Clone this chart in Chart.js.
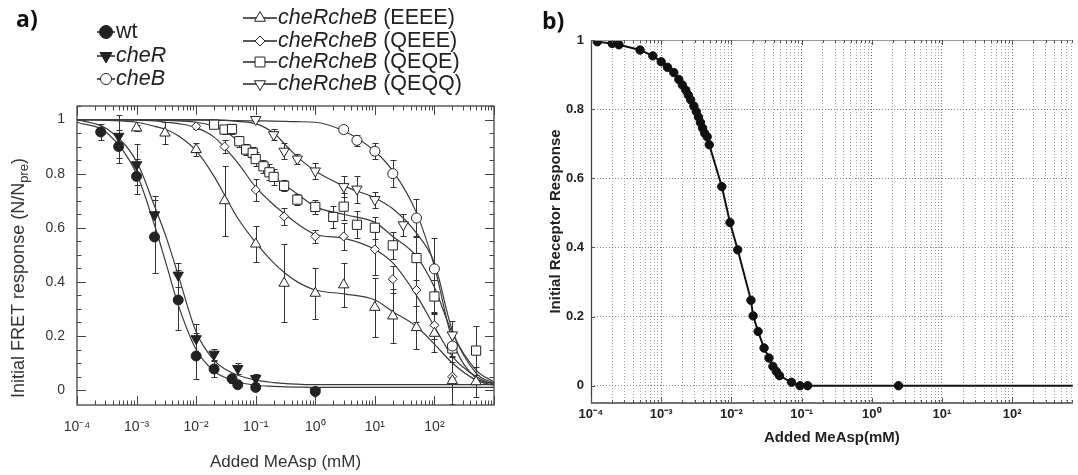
<!DOCTYPE html>
<html><head><meta charset="utf-8">
<script src="https://cdn.jsdelivr.net/npm/chart.js@4.4.1/dist/chart.umd.min.js"></script>
<style>
html,body{margin:0;padding:0;background:#fff;}
#wrap{position:relative;width:1078px;height:475px;overflow:hidden;background:#fff;}
#ca{position:absolute;left:0;top:0;}
#cb{position:absolute;left:520px;top:0;}
</style></head><body>
<div id="wrap">
<canvas id="ca" width="520" height="475"></canvas>
<canvas id="cb" width="558" height="475"></canvas>
</div>
<script>
// ---------------- Panel a data ----------------
const wtX   = [2.5e-4, 5e-4, 1e-3, 2e-3, 5e-3, 1e-2, 2e-2, 4e-2, 5e-2, 0.1, 1];
const wtY   = [0.954, 0.90, 0.79, 0.566, 0.333, 0.126, 0.078, 0.042, 0.02, 0.01, -0.005];
const wtErr = [0.03, 0.06, 0.065, 0.135, 0.11, 0.085, 0.03, 0.015, 0.01, 0.01, 0.01];

const cheRX   = [5e-4, 1e-3, 2e-3, 5e-3, 1e-2, 2e-2, 5e-2, 0.1, 1];
const cheRY   = [0.938, 0.833, 0.648, 0.425, 0.19, 0.133, 0.08, 0.043, -0.006];
const cheRErr = [0.08, 0.075, 0.07, 0.045, 0.055, 0.02, 0.02, 0.015, 0.01];

const cheBX   = [3, 5, 10, 20, 50, 100, 200];
const cheBY   = [0.963, 0.923, 0.883, 0.80, 0.636, 0.448, 0.163];
const cheBErr = [0.01, 0.02, 0.03, 0.05, 0.07, 0.115, 0.04];

const eeeeX   = [1e-3, 3e-3, 1e-2, 3e-2, 0.1, 0.3, 1, 3, 10, 20, 50, 100, 200, 500];
const eeeeY   = [0.969, 0.95, 0.889, 0.70, 0.54, 0.395, 0.358, 0.389, 0.306, 0.274, 0.231, 0.21, 0.035, 0.031];
const eeeeErr = [0.01, 0.04, 0.025, 0.13, 0.065, 0.145, 0.095, 0.08, 0.11, 0.1, 0.08, 0.07, 0.09, 0.055];

const qeeeX   = [1e-2, 3e-2, 0.1, 0.3, 1, 3, 10, 20, 50, 100, 200];
const qeeeY   = [0.975, 0.90, 0.74, 0.642, 0.568, 0.568, 0.52, 0.41, 0.37, 0.24, 0.05];
const qeeeErr = [0.01, 0.025, 0.04, 0.03, 0.025, 0.05, 0.095, 0.05, 0.12, 0.05, 0.1];

const qeqeX   = [0.02, 0.03, 0.04, 0.053, 0.069, 0.089, 0.1, 0.135, 0.17, 0.2, 0.3, 0.5, 1, 2, 3, 5, 10, 20, 50, 100, 200, 500];
const qeqeY   = [0.981, 0.963, 0.965, 0.92, 0.889, 0.877, 0.854, 0.827, 0.805, 0.788, 0.755, 0.704, 0.677, 0.64, 0.678, 0.611, 0.60, 0.535, 0.488, 0.346, 0.154, 0.146];
const qeqeErr = [0.01, 0.015, 0.02, 0.02, 0.02, 0.02, 0.025, 0.025, 0.03, 0.03, 0.02, 0.02, 0.025, 0.04, 0.05, 0.05, 0.04, 0.05, 0.08, 0.06, 0.05, 0.09];

const qeqqX   = [0.1, 0.2, 0.3, 0.5, 1, 3, 5, 10, 30, 200];
const qeqqY   = [1.0, 0.944, 0.883, 0.854, 0.81, 0.752, 0.743, 0.704, 0.611, 0.204];
const qeqqErr = [0.005, 0.02, 0.03, 0.02, 0.03, 0.04, 0.05, 0.03, 0.04, 0.05];

// fitted curves at these concentrations
const curveX     = [1e-4, 3.2e-4, 1e-3, 2e-3, 3.2e-3, 5e-3, 1e-2, 2e-2, 3.2e-2, 5e-2, 0.1, 0.2, 0.32, 0.5, 1, 3.2, 10, 20, 50, 100, 200, 500, 1000];
const wtCurve    = [0.99, 0.95, 0.80, 0.61, 0.46, 0.315, 0.15, 0.07, 0.045, 0.03, 0.018, 0.014, 0.012, 0.011, 0.01, 0.01, 0.01, 0.01, 0.01, 0.01, 0.01, 0.01, 0.01];
const cheRCurve  = [1.0, 0.965, 0.845, 0.68, 0.56, 0.425, 0.215, 0.11, 0.075, 0.055, 0.037, 0.028, 0.024, 0.022, 0.02, 0.02, 0.02, 0.02, 0.02, 0.02, 0.02, 0.02, 0.02];
const cheBCurve  = [1.0, 1.0, 1.0, 0.999, 0.999, 0.998, 0.998, 0.997, 0.997, 0.996, 0.995, 0.994, 0.993, 0.992, 0.99, 0.955, 0.883, 0.81, 0.655, 0.457, 0.185, 0.045, 0.025];
const eeeeCurve  = [1.0, 0.997, 0.99, 0.975, 0.962, 0.94, 0.885, 0.79, 0.71, 0.635, 0.545, 0.47, 0.43, 0.40, 0.37, 0.355, 0.333, 0.29, 0.235, 0.17, 0.10, 0.037, 0.018];
const qeeeCurve  = [1.0, 1.0, 0.998, 0.995, 0.99, 0.985, 0.97, 0.935, 0.89, 0.84, 0.75, 0.685, 0.648, 0.615, 0.576, 0.56, 0.52, 0.47, 0.35, 0.235, 0.125, 0.05, 0.02];
const qeqeCurve  = [1.0, 1.0, 1.0, 0.998, 0.997, 0.995, 0.99, 0.975, 0.955, 0.92, 0.855, 0.79, 0.755, 0.725, 0.678, 0.648, 0.62, 0.568, 0.494, 0.38, 0.21, 0.074, 0.03];
const qeqqCurve  = [1.0, 1.0, 1.0, 1.0, 1.0, 1.0, 1.0, 0.999, 0.997, 0.993, 0.985, 0.95, 0.905, 0.862, 0.81, 0.752, 0.71, 0.67, 0.58, 0.47, 0.22, 0.063, 0.025];

const seriesNames = ['wt', 'cheR', 'cheB', 'cheRcheB (EEEE)', 'cheRcheB (QEEE)', 'cheRcheB (QEQE)', 'cheRcheB (QEQQ)'];
const seriesItalic = [false, true, true, true, true, true, true];

const aXTickExp    = [-4, -3, -2, -1, 0, 1, 2];
const aXTickLabels = ['10⁻⁴', '10⁻³', '10⁻²', '10⁻¹', '10⁰', '10¹', '10²'];
const aXDecades    = [1e-4, 1e-3, 1e-2, 0.1, 1, 10, 100];
const aYTicks      = [0, 0.2, 0.4, 0.6, 0.8, 1];
const aYTickLabels = ['0', '0.2', '0.4', '0.6', '0.8', '1'];
const aYMarks      = [0, 0.05, 0.1, 0.15, 0.2, 0.25, 0.3, 0.35, 0.4, 0.45, 0.5, 0.55, 0.6, 0.65, 0.7, 0.75, 0.8, 0.85, 0.9, 0.95, 1, 1.05];
const aXTitle = 'Added MeAsp (mM)';
const aYTitleMain = 'Initial FRET response (N/N';
const aYTitleSub = 'pre';

// ---------------- Panel b data ----------------
const bX = [1.23e-4, 2.0e-4, 2.5e-4, 5e-4, 7.6e-4, 1e-3, 1.23e-3, 1.51e-3, 1.78e-3, 2.0e-3, 2.24e-3, 2.43e-3, 2.63e-3, 2.92e-3, 3.16e-3, 3.39e-3, 3.63e-3, 3.89e-3, 4.17e-3, 4.52e-3, 4.84e-3, 7.3e-3, 9.55e-3, 1.23e-2, 1.9e-2, 2.04e-2, 2.4e-2, 2.92e-2, 3.43e-2, 3.9e-2, 4.37e-2, 4.84e-2, 7.2e-2, 0.095, 0.122, 2.4, 1000];
const bY = [0.995, 0.99, 0.986, 0.971, 0.954, 0.937, 0.921, 0.906, 0.886, 0.87, 0.855, 0.841, 0.827, 0.809, 0.793, 0.777, 0.761, 0.745, 0.73, 0.72, 0.697, 0.576, 0.472, 0.393, 0.247, 0.202, 0.157, 0.109, 0.08, 0.056, 0.041, 0.029, 0.01, 0.0, 0.0, 0.0, 0.0];
const bXTickExp    = [-4, -3, -2, -1, 0, 1, 2];
const bXTickLabels = ['10⁻⁴', '10⁻³', '10⁻²', '10⁻¹', '10⁰', '10¹', '10²'];
const bXDecades    = [1e-4, 1e-3, 1e-2, 0.1, 1, 10, 100];
const bYTicks      = [0, 0.2, 0.4, 0.6, 0.8, 1];
const bYTickLabels = ['0', '0.2', '0.4', '0.6', '0.8', '1'];
const bXTitle = 'Added MeAsp(mM)';
const bYTitle = 'Initial Receptor Response';

// ---------------- helpers ----------------
Chart.defaults.font.family = '"Liberation Sans", Arial, sans-serif';
const FONT = '"Liberation Sans", Arial, sans-serif';
function xy(xs, ys) { return xs.map((x, i) => ({x: x, y: ys[i]})); }
function isDecade(v) { const e = Math.log10(v); return Math.abs(e - Math.round(e)) < 1e-6; }
function logMarks(decades, maxV) {
  const t = [];
  decades.forEach(d => { for (let m = 1; m <= 9; m++) { const v = +(d * m).toPrecision(6); if (v <= maxV * 1.0001) t.push(v); } });
  if (maxV > t[t.length - 1] * 1.0001 && isDecade(maxV)) t.push(maxV);
  return t;
}
function decadeLabel(v, exps, labels) {
  if (!isDecade(v)) return '';
  const i = exps.indexOf(Math.round(Math.log10(v)));
  return i >= 0 ? labels[i] : '';
}

const errorBars = {
  id: 'errorBars',
  beforeDatasetsDraw(chart) {
    const ctx = chart.ctx, xs = chart.scales.x, ys = chart.scales.y, a = chart.chartArea;
    ctx.save();
    ctx.beginPath(); ctx.rect(a.left, a.top, a.right - a.left, a.bottom - a.top); ctx.clip();
    ctx.strokeStyle = '#333'; ctx.lineWidth = 1;
    chart.data.datasets.forEach(ds => {
      if (!ds.errors) return;
      ds.data.forEach((p, i) => {
        const e = ds.errors[i]; if (!e) return;
        const px = Math.round(xs.getPixelForValue(p.x)) + 0.5;
        const y1 = Math.round(ys.getPixelForValue(p.y + e)) + 0.5, y2 = Math.round(ys.getPixelForValue(p.y - e)) + 0.5;
        ctx.beginPath();
        ctx.moveTo(px, y1); ctx.lineTo(px, y2);
        ctx.moveTo(px - 3, y1); ctx.lineTo(px + 3, y1);
        ctx.moveTo(px - 3, y2); ctx.lineTo(px + 3, y2);
        ctx.stroke();
      });
    });
    ctx.restore();
  }
};

const aStyles = [
  {ps: 'circle', rot: 0, fill: true, r: 5, lr: 6.5},
  {ps: 'triangle', rot: 180, fill: true, r: 6, lr: 7},
  {ps: 'circle', rot: 0, fill: false, r: 5, lr: 5.5},
  {ps: 'triangle', rot: 0, fill: false, r: 6, lr: 6.5},
  {ps: 'rectRot', rot: 0, fill: false, r: 4.5, lr: 5},
  {ps: 'rect', rot: 0, fill: false, r: 6.5, lr: 7},
  {ps: 'triangle', rot: 180, fill: false, r: 6, lr: 6.5}
];

const frameA = {
  id: 'frameA',
  afterDraw(chart) {
    const ctx = chart.ctx, a = chart.chartArea, x = chart.scales.x, y = chart.scales.y;
    ctx.save();
    ctx.strokeStyle = '#444'; ctx.lineWidth = 1.3;
    ctx.strokeRect(a.left, a.top, a.right - a.left, a.bottom - a.top);
    ctx.lineWidth = 1;
    ctx.beginPath();
    logMarks(aXDecades, 1000).forEach(v => {
      const px = Math.round(x.getPixelForValue(v)) + 0.5; const L = isDecade(v) ? 9 : 4.5;
      ctx.moveTo(px, a.bottom); ctx.lineTo(px, a.bottom - L);
      ctx.moveTo(px, a.top); ctx.lineTo(px, a.top + L);
    });
    aYMarks.forEach(v => {
      const py = Math.round(y.getPixelForValue(v)) + 0.5;
      const major = Math.abs(v * 5 - Math.round(v * 5)) < 1e-6; const L = major ? 9 : 4.5;
      ctx.moveTo(a.left, py); ctx.lineTo(a.left + L, py);
      ctx.moveTo(a.right, py); ctx.lineTo(a.right - L, py);
    });
    ctx.stroke();
    // y title with subscript
    ctx.fillStyle = '#333';
    ctx.translate(19, 278);
    ctx.rotate(-Math.PI / 2);
    ctx.textBaseline = 'middle';
    const mainFont = '18px ' + FONT, subFont = '13px ' + FONT;
    ctx.font = mainFont; const w1 = ctx.measureText(aYTitleMain).width; const w3 = ctx.measureText(')').width;
    ctx.font = subFont; const w2 = ctx.measureText(aYTitleSub).width;
    let sx = -(w1 + w2 + w3) / 2;
    ctx.font = mainFont; ctx.textAlign = 'left'; ctx.fillText(aYTitleMain, sx, 0);
    ctx.font = subFont; ctx.fillText(aYTitleSub, sx + w1, 5);
    ctx.font = mainFont; ctx.fillText(')', sx + w1 + w2, 0);
    ctx.restore();
    // panel label
    ctx.save();
    ctx.fillStyle = '#111'; ctx.font = 'bold 23px "Open Sans", ' + FONT; ctx.textBaseline = 'alphabetic';
    ctx.fillText('a)', 16, 27);
    ctx.restore();
    // legend
    const cols = [{x0: 97, len: 18, rows: [32, 56, 79]}, {x0: 243, len: 34, rows: [18, 41, 62, 84]}];
    ctx.save();
    ctx.textBaseline = 'middle'; ctx.fillStyle = '#222';
    seriesNames.forEach((name, i) => {
      const c = i < 3 ? cols[0] : cols[1]; const yy = c.rows[i < 3 ? i : i - 3];
      const st = aStyles[i];
      ctx.strokeStyle = '#222'; ctx.lineWidth = 1.5;
      ctx.beginPath(); ctx.moveTo(c.x0, yy); ctx.lineTo(c.x0 + c.len, yy); ctx.stroke();
      ctx.fillStyle = st.fill ? '#222' : '#fff'; ctx.lineWidth = 1;
      Chart.helpers.drawPoint(ctx, {pointStyle: st.ps, radius: st.lr, rotation: st.rot, borderWidth: 1}, c.x0 + c.len / 2, yy);
      ctx.fillStyle = '#222';
      let tx = c.x0 + c.len + 1;
      const sp = name.indexOf(' ');
      const first = sp >= 0 ? name.slice(0, sp) : name; const rest = sp >= 0 ? name.slice(sp) : '';
      ctx.font = (seriesItalic[i] ? 'italic ' : '') + '21.5px ' + FONT;
      ctx.fillText(first, tx, yy); tx += ctx.measureText(first).width;
      ctx.font = '21.5px ' + FONT; ctx.fillText(rest, tx, yy);
    });
    ctx.restore();
  }
};

const seriesA = [
  {x: wtX, y: wtY, e: wtErr, c: wtCurve},
  {x: cheRX, y: cheRY, e: cheRErr, c: cheRCurve},
  {x: cheBX, y: cheBY, e: cheBErr, c: cheBCurve},
  {x: eeeeX, y: eeeeY, e: eeeeErr, c: eeeeCurve},
  {x: qeeeX, y: qeeeY, e: qeeeErr, c: qeeeCurve},
  {x: qeqeX, y: qeqeY, e: qeqeErr, c: qeqeCurve},
  {x: qeqqX, y: qeqqY, e: qeqqErr, c: qeqqCurve}
];
const dsA = [];
seriesA.forEach((s, i) => {
  const st = aStyles[i];
  dsA.push({label: seriesNames[i], data: xy(s.x, s.y), showLine: false, pointStyle: st.ps, rotation: st.rot, pointRadius: st.r,
    pointBorderWidth: 1, pointBorderColor: '#222', pointBackgroundColor: st.fill ? '#222' : '#fff', errors: s.e, order: 0});
});
seriesA.forEach((s, i) => {
  dsA.push({label: seriesNames[i] + ' fit', data: xy(curveX, s.c), showLine: true, pointRadius: 0, borderColor: '#3a3a3a',
    borderWidth: 1.2, cubicInterpolationMode: 'monotone', fill: false, order: 1});
});

new Chart(document.getElementById('ca'), {
  type: 'scatter',
  data: {datasets: dsA},
  options: {
    responsive: false, animation: false, events: [], devicePixelRatio: 1,
    layout: {padding: {left: 0, top: 106, right: 26, bottom: 0}},
    plugins: {legend: {display: false}, tooltip: {enabled: false}},
    scales: {
      x: {type: 'logarithmic', min: 1e-4, max: 1000,
        afterBuildTicks: sc => { sc.ticks = logMarks(aXDecades, 1000).map(v => ({value: v})); },
        afterFit: sc => { sc.height = 70; },
        grid: {display: false, drawTicks: false}, border: {display: false},
        ticks: {autoSkip: false, maxRotation: 0, minRotation: 0, padding: 14, color: '#333', font: {size: 14},
          callback: v => decadeLabel(v, aXTickExp, aXTickLabels)},
        title: {display: true, text: aXTitle, color: '#333', font: {size: 17}, padding: {top: 0, bottom: 2}}
      },
      y: {type: 'linear', min: -0.055, max: 1.05,
        afterBuildTicks: sc => { sc.ticks = aYTicks.map(v => ({value: v})); },
        afterFit: sc => { sc.width = 77; },
        grid: {display: false, drawTicks: false}, border: {display: false},
        ticks: {padding: 12, color: '#333', font: {size: 14}, callback: v => aYTickLabels[aYTicks.indexOf(v)]}
      }
    }
  },
  plugins: [errorBars, frameA]
});

// ---------------- Panel b ----------------
const frameB = {
  id: 'frameB',
  afterDraw(chart) {
    const ctx = chart.ctx, a = chart.chartArea, x = chart.scales.x, y = chart.scales.y;
    ctx.save();
    ctx.lineWidth = 1;
    ctx.strokeStyle = '#999';
    ctx.beginPath(); ctx.moveTo(a.left, a.top + 0.5); ctx.lineTo(a.right, a.top + 0.5); ctx.stroke();
    ctx.strokeStyle = '#444'; ctx.lineWidth = 1.3;
    ctx.beginPath(); ctx.moveTo(a.left + 0.5, a.top); ctx.lineTo(a.left + 0.5, a.bottom); ctx.lineTo(a.right, a.bottom); ctx.stroke();
    ctx.lineWidth = 1; ctx.strokeStyle = '#555';
    ctx.beginPath();
    logMarks(bXDecades, 730).forEach(v => {
      const px = Math.round(x.getPixelForValue(v)) + 0.5; const L = isDecade(v) ? 5 : 3;
      ctx.moveTo(px, a.bottom); ctx.lineTo(px, a.bottom - L);
      ctx.moveTo(px, a.top); ctx.lineTo(px, a.top + L);
    });
    bYTicks.forEach(v => {
      const py = Math.round(y.getPixelForValue(v)) + 0.5;
      ctx.moveTo(a.left, py); ctx.lineTo(a.left + 4, py);
    });
    ctx.stroke();
    ctx.fillStyle = '#111'; ctx.font = 'bold 23px "Open Sans", ' + FONT; ctx.textBaseline = 'alphabetic';
    ctx.fillText('b)', 22, 29);
    ctx.restore();
  }
};

new Chart(document.getElementById('cb'), {
  type: 'scatter',
  data: {datasets: [{label: 'Receptor response', data: xy(bX, bY), showLine: true, borderColor: '#111', borderWidth: 2,
    pointStyle: 'circle', pointRadius: 4.2, pointBackgroundColor: '#111', pointBorderColor: '#111', pointBorderWidth: 1, tension: 0}]},
  options: {
    responsive: false, animation: false, events: [], devicePixelRatio: 1,
    layout: {padding: {left: 0, top: 40, right: 0, bottom: 0}},
    plugins: {legend: {display: false}, tooltip: {enabled: false}},
    scales: {
      x: {type: 'logarithmic', min: 1e-4, max: 730,
        afterBuildTicks: sc => { sc.ticks = logMarks(bXDecades, 730).map(v => ({value: v})); },
        afterFit: sc => { sc.height = 72; },
        grid: {display: true, drawTicks: false, lineWidth: 1, color: c => (c.tick && isDecade(c.tick.value)) ? '#6e6e6e' : '#a2a2a2'},
        border: {display: false, dash: [1, 2]},
        ticks: {autoSkip: false, maxRotation: 0, minRotation: 0, padding: 4, color: '#222', font: {size: 13, weight: 'bold'},
          callback: v => decadeLabel(v, bXTickExp, bXTickLabels)},
        title: {display: true, text: bXTitle, color: '#222', font: {size: 15, weight: 'bold'}, padding: {top: 0, bottom: 28}}
      },
      y: {type: 'linear', min: -0.05, max: 1.0,
        afterBuildTicks: sc => { sc.ticks = bYTicks.map(v => ({value: v})); },
        afterFit: sc => { sc.width = 71; },
        grid: {display: true, drawTicks: false, lineWidth: 1, color: '#8a8a8a'},
        border: {display: false, dash: [1, 2]},
        ticks: {padding: 7, color: '#222', font: {size: 13, weight: 'bold'}, callback: v => bYTickLabels[bYTicks.indexOf(v)]},
        title: {display: true, text: bYTitle, color: '#222', font: {size: 15, weight: 'bold'}, padding: {top: 27, bottom: 0}}
      }
    }
  },
  plugins: [frameB]
});
</script>
</body></html>
